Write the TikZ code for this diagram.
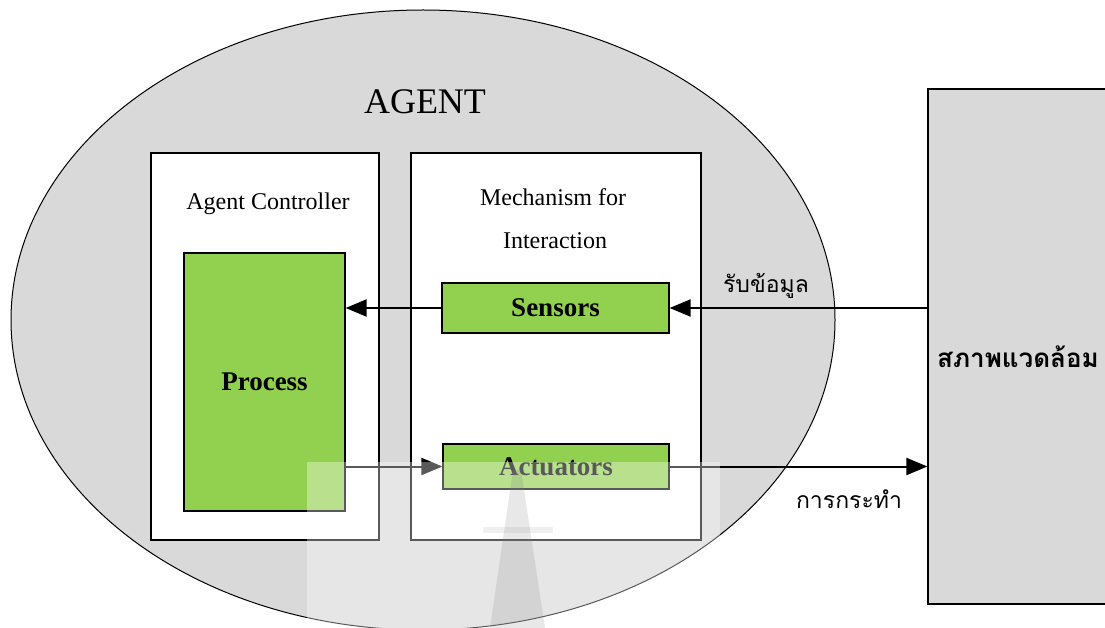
\documentclass[tikz,border=0pt]{standalone}
\usepackage{fontspec}
\setmainfont{Liberation Serif}
\newfontfamily\thaifont[Script=Thai]{Loma}
\usetikzlibrary{arrows.meta}
\definecolor{agentgrey}{HTML}{D9D9D9}
\definecolor{boxgreen}{HTML}{92D050}
\tikzset{
  part/.style={draw, line width=1.2pt, fill=white, inner sep=0pt},
  unit/.style={draw, line width=1.2pt, fill=boxgreen, inner sep=0pt,
    font=\fontsize{27}{31}\selectfont\bfseries},
  flow/.style={line width=2pt, -{Triangle[length=21pt,width=17pt]}},
  plain/.style={font=\fontsize{24}{28}\selectfont},
  thai/.style={font=\thaifont\fontsize{23}{27}\selectfont},
}
\begin{document}
\begin{tikzpicture}[x=1pt,y=-1pt]
    \useasboundingbox (0,0) rectangle (1105,628);
    \clip (0,0) rectangle (1105,628);
    \draw[line width=1pt, fill=agentgrey] (423,320) ellipse [x radius=412, y radius=310];
    \node[font=\fontsize{36}{40}\selectfont] (agent) at (425,102) {AGENT};

    \node[part, minimum width=228pt, minimum height=387pt] (ctrl) at (265,346.5) {};
    \node[plain] (ctrlname) at (268,204) {Agent Controller};
    \node[unit, minimum width=161pt, minimum height=258pt] (proc) at (264.5,382) {Process};

    \node[part, minimum width=290pt, minimum height=387pt] (mech) at (556,346.5) {};
    \node[plain] (mechname) at (553,197) {Mechanism for};
    \node[plain] (mechname2) at (555,241) {Interaction};
    \node[unit, minimum width=227pt, minimum height=50pt] (sens) at (555.5,308) {Sensors};
    \node[unit, minimum width=226pt, minimum height=45pt] (act) at (556,466.5) {Actuators};

    \node[draw, line width=1.2pt, fill=agentgrey, minimum width=187pt, minimum height=515pt] (env) at (1021.5,346.5) {};
    \node[font=\thaifont\bfseries\fontsize{26}{30}\selectfont] (envname) at (1018,357) {สภาพแวดล้อม};

    \draw[flow] (env.west |- sens.east) -- (sens.east);
    \draw[flow] (sens.west) -- (proc.east |- sens.west);
    \draw[flow] (proc.east |- act.west) -- (act.west);
    \draw[flow] (act.east) -- (env.west |- act.east);
    \node[thai] (getdata) at (766,286) {รับข้อมูล};
    \node[thai] (doact) at (849,499) {การกระทำ};

    % watermark
    \fill[white, opacity=0.35] (307,462) rectangle (720,628);
    \fill[gray, opacity=0.18] (513,470) -- (521,470) -- (545,628) -- (490,628) -- cycle;
    \fill[gray, opacity=0.12] (483,527) rectangle (553,533);
\end{tikzpicture}
\end{document}
